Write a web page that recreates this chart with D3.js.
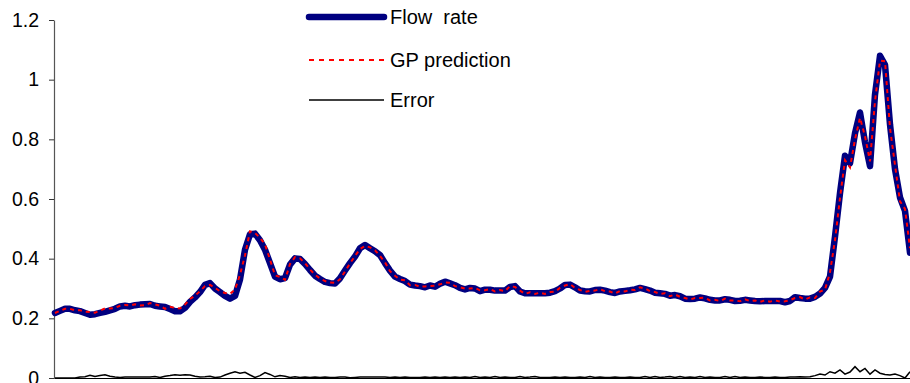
<!DOCTYPE html>
<html>
<head>
<meta charset="utf-8">
<script src="https://cdn.jsdelivr.net/npm/d3@7"></script>
<style>
  html, body { margin: 0; padding: 0; background: #fff; }
  svg { display: block; }
  text { font-family: "Liberation Sans", Arial, Helvetica, sans-serif; fill: #000; }
</style>
</head>
<body>
<svg id="chart" width="910" height="383"></svg>
<script>
// ---- data ----
const flowRate = [
  0.218,0.225,0.232,0.232,0.227,0.224,0.218,0.212,0.214,0.218,
  0.222,0.227,0.232,0.240,0.242,0.240,0.244,0.246,0.247,0.248,
  0.242,0.240,0.238,0.231,0.224,0.224,0.235,0.255,0.270,0.288,
  0.312,0.318,0.300,0.288,0.275,0.266,0.275,0.330,0.430,0.482,
  0.484,0.462,0.430,0.385,0.340,0.331,0.335,0.380,0.401,0.399,
  0.382,0.362,0.343,0.332,0.322,0.318,0.317,0.334,0.360,0.385,
  0.407,0.435,0.446,0.435,0.425,0.412,0.385,0.360,0.340,0.332,
  0.325,0.313,0.310,0.308,0.304,0.310,0.306,0.316,0.323,0.317,
  0.311,0.302,0.297,0.302,0.300,0.291,0.296,0.296,0.293,0.293,
  0.293,0.305,0.308,0.290,0.284,0.284,0.284,0.284,0.284,0.286,
  0.291,0.300,0.312,0.313,0.304,0.293,0.291,0.290,0.295,0.296,
  0.293,0.288,0.285,0.290,0.292,0.294,0.297,0.302,0.298,0.293,
  0.286,0.284,0.282,0.276,0.278,0.274,0.266,0.265,0.266,0.270,
  0.267,0.262,0.260,0.260,0.264,0.262,0.258,0.259,0.262,0.260,
  0.258,0.257,0.258,0.258,0.258,0.258,0.254,0.258,0.271,0.268,
  0.266,0.266,0.272,0.283,0.302,0.340,0.474,0.620,0.745,0.720,
  0.820,0.890,0.790,0.710,0.950,1.080,1.050,0.850,0.700,0.605,
  0.560,0.420
];
const gpPrediction = [
  0.218,0.225,0.232,0.232,0.227,0.227,0.222,0.221,0.219,0.226,
  0.233,0.233,0.235,0.242,0.245,0.243,0.247,0.243,0.244,0.251,
  0.247,0.242,0.232,0.239,0.235,0.233,0.246,0.265,0.276,0.291,
  0.308,0.312,0.302,0.291,0.285,0.282,0.296,0.346,0.411,0.492,
  0.486,0.470,0.448,0.397,0.344,0.339,0.329,0.382,0.405,0.401,
  0.385,0.364,0.346,0.334,0.325,0.320,0.319,0.331,0.357,0.384,
  0.409,0.432,0.443,0.438,0.428,0.409,0.388,0.358,0.343,0.330,
  0.328,0.311,0.312,0.306,0.307,0.308,0.309,0.314,0.320,0.319,
  0.308,0.304,0.300,0.300,0.302,0.294,0.294,0.298,0.290,0.295,
  0.291,0.308,0.305,0.293,0.282,0.287,0.282,0.286,0.282,0.288,
  0.289,0.302,0.310,0.315,0.302,0.295,0.289,0.292,0.293,0.298,
  0.291,0.290,0.283,0.292,0.290,0.296,0.295,0.304,0.300,0.291,
  0.288,0.282,0.284,0.274,0.280,0.272,0.268,0.263,0.268,0.268,
  0.269,0.260,0.262,0.258,0.266,0.260,0.260,0.257,0.264,0.258,
  0.260,0.255,0.260,0.256,0.260,0.256,0.257,0.261,0.268,0.271,
  0.263,0.270,0.268,0.290,0.296,0.354,0.462,0.604,0.730,0.706,
  0.800,0.872,0.810,0.726,0.928,1.064,1.062,0.838,0.714,0.592,
  0.567,0.435
];
const errorValues = [
  0.000,0.000,0.000,0.000,0.000,0.003,0.004,0.009,0.005,0.008,
  0.011,0.006,0.003,0.002,0.003,0.003,0.003,0.003,0.003,0.003,
  0.005,0.002,0.006,0.008,0.011,0.009,0.011,0.010,0.006,0.003,
  0.004,0.006,0.002,0.003,0.010,0.016,0.021,0.016,0.019,0.010,
  0.002,0.008,0.018,0.012,0.004,0.008,0.006,0.002,0.004,0.002,
  0.003,0.002,0.003,0.002,0.003,0.002,0.002,0.003,0.003,0.001,
  0.002,0.003,0.003,0.003,0.003,0.003,0.003,0.002,0.003,0.002,
  0.003,0.002,0.002,0.002,0.003,0.002,0.003,0.002,0.003,0.002,
  0.003,0.002,0.003,0.002,0.005,0.002,0.003,0.002,0.005,0.002,
  0.003,0.002,0.002,0.005,0.002,0.003,0.005,0.002,0.002,0.002,
  0.003,0.002,0.003,0.002,0.002,0.003,0.002,0.005,0.002,0.003,
  0.002,0.002,0.003,0.002,0.002,0.003,0.002,0.002,0.005,0.002,
  0.005,0.002,0.003,0.005,0.002,0.005,0.002,0.003,0.002,0.005,
  0.002,0.003,0.002,0.002,0.005,0.002,0.005,0.002,0.003,0.002,
  0.002,0.003,0.002,0.002,0.003,0.002,0.002,0.003,0.003,0.004,
  0.003,0.004,0.008,0.013,0.010,0.021,0.016,0.027,0.013,0.020,
  0.038,0.021,0.032,0.013,0.027,0.016,0.012,0.010,0.013,0.008,
  0.000,0.021
];
const yTicks = [0, 0.2, 0.4, 0.6, 0.8, 1, 1.2];
const yTickLabels = ["0", "0.2", "0.4", "0.6", "0.8", "1", "1.2"];
const seriesNames = ["Flow  rate", "GP prediction", "Error"];

// ---- layout ----
const svg = d3.select("#chart");
const plot = { left: 54, right: 910, top: 20, bottom: 378 };

const x = d3.scaleLinear().domain([0, flowRate.length - 1]).range([55, 910]);
const y = d3.scaleLinear().domain([0, 1.2]).range([plot.bottom, plot.top]);

// axes
const yAxis = d3.axisLeft(y)
  .tickValues(yTicks)
  .tickFormat((d, i) => yTickLabels[i])
  .tickSize(5)
  .tickSizeOuter(0)
  .tickPadding(10);
const gy = svg.append("g").attr("transform", `translate(${plot.left},0)`).call(yAxis);
gy.select(".domain").attr("stroke", "#555").attr("stroke-width", 1.2);
gy.selectAll(".tick line").attr("stroke", "#333");
gy.selectAll(".tick text").style("font-size", "19.5px").attr("fill", "#000");

const xAxis = d3.axisBottom(d3.scaleLinear().domain([0, 1]).range([plot.left, plot.right]))
  .tickValues([]).tickSizeOuter(0);
const gx = svg.append("g").attr("transform", `translate(0,${plot.bottom})`).call(xAxis);
gx.select(".domain").attr("stroke", "#000").attr("stroke-width", 1.2);

// lines
const line = d3.line().x((d, i) => x(i)).y(d => y(d));

svg.append("path").datum(errorValues)
  .attr("d", line).attr("fill", "none")
  .attr("stroke", "#000").attr("stroke-width", 1.5);

svg.append("path").datum(flowRate)
  .attr("d", line).attr("fill", "none")
  .attr("stroke", "#000080").attr("stroke-width", 6.5)
  .attr("stroke-linejoin", "round").attr("stroke-linecap", "round");

svg.append("path").datum(gpPrediction)
  .attr("d", line).attr("fill", "none")
  .attr("stroke", "#ff0000").attr("stroke-width", 2)
  .attr("stroke-dasharray", "4,4");

// legend
const legendRows = [
  { name: seriesNames[0], y: 17, stroke: "#000080", width: 6.5, dash: null, cap: "round" },
  { name: seriesNames[1], y: 60, stroke: "#ff0000", width: 2, dash: "5,5", cap: "butt" },
  { name: seriesNames[2], y: 100, stroke: "#000", width: 1.5, dash: null, cap: "butt" }
];
const lg = svg.append("g");
legendRows.forEach(r => {
  lg.append("line")
    .attr("x1", 309).attr("x2", 384).attr("y1", r.y).attr("y2", r.y)
    .attr("stroke", r.stroke).attr("stroke-width", r.width)
    .attr("stroke-linecap", r.cap)
    .attr("stroke-dasharray", r.dash);
  lg.append("text")
    .attr("x", 390).attr("y", r.y).attr("dy", "0.35em")
    .style("font-size", "20px").style("white-space", "pre")
    .text(r.name);
});
</script>
</body>
</html>
